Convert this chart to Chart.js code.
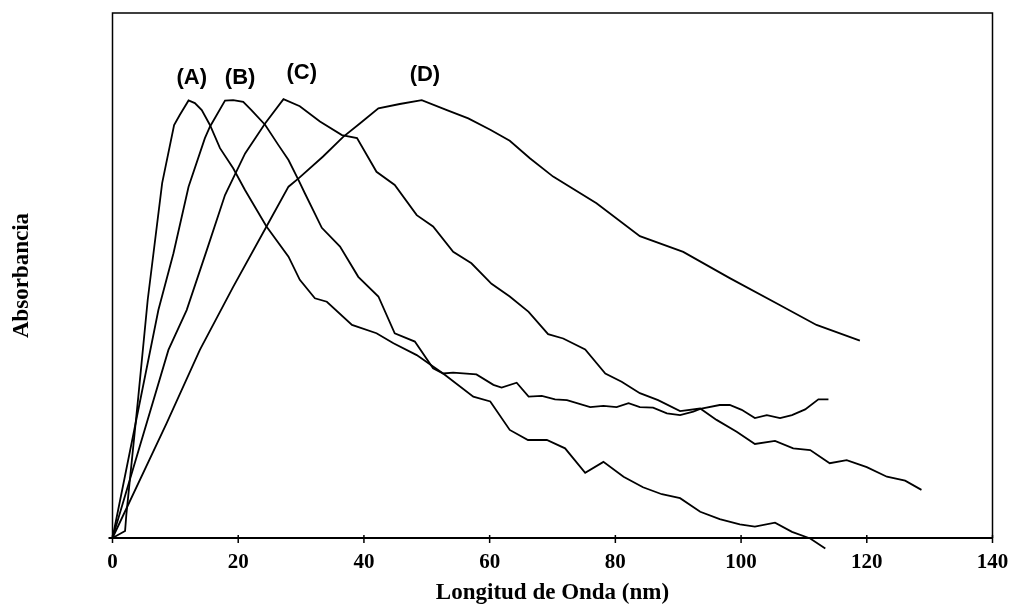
<!DOCTYPE html>
<html>
<head>
<meta charset="utf-8">
<script src="https://cdn.jsdelivr.net/npm/chart.js@4.4.1/dist/chart.umd.min.js"></script>
<style>
    html, body { margin: 0; padding: 0; background: #fff; }
    canvas { display: block; }
</style>
</head>
<body>
<canvas id="espectros" width="1012" height="607"></canvas>
<script>
// curva (A)
var ondaA = [0, 2.0, 2.2, 4.1, 5.6, 7.9, 9.8, 10.7, 12.1, 13.1, 14.2, 15.5, 17.1, 19.2, 21.1, 24.5, 28.0, 29.8, 32.2, 34.1,
    38.1, 42.0, 44.7, 48.4, 51.0, 52.6, 57.4, 60.1, 63.2, 66.1, 69.1, 72.0, 75.2, 78.1, 81.3, 84.4, 87.4, 90.3, 93.5, 96.6,
    99.8, 102.2, 105.4, 108.1, 111.0, 113.4];
var absA = [0, 0.016, 0.053, 0.322, 0.544, 0.811, 0.944, 0.967, 1.000, 0.994, 0.978, 0.944, 0.891, 0.845, 0.795, 0.712, 0.643, 0.590, 0.548, 0.540,
    0.487, 0.468, 0.445, 0.418, 0.392, 0.376, 0.323, 0.312, 0.247, 0.224, 0.224, 0.205, 0.149, 0.174, 0.140, 0.116, 0.100, 0.091, 0.060, 0.043,
    0.031, 0.026, 0.035, 0.014, -0.001, -0.024];

// curva (B)
var ondaB = [0, 7.3, 9.7, 12.1, 14.7, 15.5, 17.9, 19.2, 20.8, 22.1, 24.3, 26.4, 28.0, 29.6, 30.6, 33.3, 36.2, 39.1, 42.3, 44.9,
    48.1, 51.0, 52.6, 54.2, 57.9, 60.6, 61.9, 64.3, 66.2, 68.3, 70.4, 72.3, 76.0, 78.1, 80.2, 82.1, 83.9, 86.0, 88.2, 90.3,
    92.4, 93.7, 96.6, 98.2, 100.1, 102.2, 104.1, 106.2, 108.1, 110.2, 112.3, 113.9];
var absB = [0, 0.521, 0.651, 0.803, 0.914, 0.940, 1.000, 1.001, 0.997, 0.978, 0.944, 0.898, 0.864, 0.818, 0.788, 0.709, 0.666, 0.597, 0.552, 0.468,
    0.449, 0.388, 0.376, 0.378, 0.374, 0.350, 0.344, 0.355, 0.323, 0.325, 0.317, 0.315, 0.299, 0.302, 0.299, 0.308, 0.299, 0.298, 0.285, 0.281,
    0.289, 0.296, 0.304, 0.304, 0.293, 0.274, 0.281, 0.274, 0.281, 0.294, 0.317, 0.317];

// curva (C)
var ondaC = [0, 8.9, 11.8, 15.0, 17.9, 21.1, 24.3, 27.2, 29.8, 33.0, 36.5, 38.9, 42.0, 44.9, 48.4, 51.0, 54.2, 57.1, 60.3, 63.2,
    66.2, 69.3, 71.7, 75.2, 78.4, 81.0, 83.9, 86.8, 90.3, 93.5, 96.1, 99.3, 102.2, 105.4, 108.3, 111.0, 114.1, 116.8, 120.0, 123.2,
    126.1, 128.7];
var absC = [0, 0.430, 0.521, 0.658, 0.784, 0.879, 0.948, 1.003, 0.987, 0.952, 0.921, 0.914, 0.837, 0.807, 0.738, 0.712, 0.654, 0.628, 0.581, 0.552,
    0.517, 0.466, 0.456, 0.431, 0.376, 0.357, 0.331, 0.315, 0.290, 0.296, 0.270, 0.243, 0.215, 0.222, 0.205, 0.201, 0.171, 0.178, 0.162, 0.140,
    0.131, 0.110];

// curva (D)
var ondaD = [0, 8.6, 13.9, 19.2, 24.5, 28.0, 29.6, 33.5, 36.7, 39.4, 42.3, 45.7, 49.2, 53.2, 56.6, 60.1, 63.2, 66.4, 70.1, 77.0,
    83.9, 90.8, 98.2, 105.7, 112.0, 118.9];
var absD = [0, 0.262, 0.430, 0.574, 0.712, 0.803, 0.822, 0.872, 0.917, 0.948, 0.982, 0.992, 1.001, 0.978, 0.959, 0.933, 0.908, 0.868, 0.826, 0.765,
    0.690, 0.654, 0.594, 0.536, 0.487, 0.451];

var nombres = ["(A)", "(B)", "(C)", "(D)"];
var ticksX = [0, 20, 40, 60, 80, 100, 120, 140];

function puntos(xs, ys) {
    var out = [];
    for (var i = 0; i < xs.length; i++) {
        out.push({ x: xs[i], y: ys[i] });
    }
    return out;
}

function serie(nombre, xs, ys) {
    return {
        label: nombre,
        data: puntos(xs, ys),
        borderColor: "#000",
        borderWidth: 1.8,
        pointRadius: 0,
        tension: 0,
        fill: false,
        clip: false
    };
}

// marco del area de trazado y marcas del eje x
var marco = {
    id: "marco",
    afterDatasetsDraw: function (chart) {
        var ctx = chart.ctx;
        var a = chart.chartArea;
        var sx = chart.scales.x;
        ctx.save();
        ctx.strokeStyle = "#000";
        ctx.lineWidth = 1.5;
        ctx.beginPath();
        ctx.moveTo(a.left, a.bottom);
        ctx.lineTo(a.left, a.top);
        ctx.lineTo(a.right, a.top);
        ctx.lineTo(a.right, a.bottom);
        ctx.stroke();
        ctx.lineWidth = 2;
        ctx.beginPath();
        ctx.moveTo(a.left - 4, a.bottom);
        ctx.lineTo(a.right, a.bottom);
        ctx.stroke();
        ctx.lineWidth = 1.5;
        ticksX.forEach(function (v) {
            var px = sx.getPixelForValue(v);
            ctx.beginPath();
            ctx.moveTo(px, a.bottom - 3);
            ctx.lineTo(px, a.bottom + 5);
            ctx.stroke();
        });
        ctx.restore();
    }
};

// letras sobre cada pico
var etiquetas = {
    id: "etiquetas",
    afterDatasetsDraw: function (chart, args, opts) {
        var ctx = chart.ctx;
        ctx.save();
        ctx.fillStyle = "#000";
        ctx.font = "bold 22px 'Liberation Sans', Arial, sans-serif";
        ctx.textAlign = "center";
        ctx.textBaseline = "middle";
        opts.posiciones.forEach(function (p, i) {
            ctx.fillText(nombres[i], chart.scales.x.getPixelForValue(p[0]), chart.scales.y.getPixelForValue(p[1]));
        });
        ctx.restore();
    }
};

new Chart("espectros", {
    type: "line",
    data: {
        datasets: [
            serie(nombres[0], ondaA, absA),
            serie(nombres[1], ondaB, absB),
            serie(nombres[2], ondaC, absC),
            serie(nombres[3], ondaD, absD)
        ]
    },
    options: {
        responsive: false,
        animation: false,
        layout: { padding: { left: 0, right: 19.5, top: 13, bottom: 0 } },
        plugins: {
            legend: { display: false },
            tooltip: { enabled: false },
            etiquetas: { posiciones: [[12.6, 1.051], [20.3, 1.051], [30.1, 1.063], [49.7, 1.058]] }
        },
        scales: {
            x: {
                type: "linear",
                min: 0,
                max: 140,
                grid: { display: false, drawTicks: false },
                border: { display: false },
                ticks: {
                    stepSize: 20,
                    padding: 12,
                    color: "#000",
                    font: { family: "'Liberation Serif', 'Times New Roman', serif", size: 21, weight: "bold" }
                },
                title: {
                    display: true,
                    text: "Longitud de Onda (nm)",
                    color: "#000",
                    padding: { top: 0, bottom: 0 },
                    font: { family: "'Liberation Serif', 'Times New Roman', serif", size: 23, weight: "bold" }
                },
                afterFit: function (s) {
                    s.height = 69;
                    s.paddingLeft = 0;
                    s.paddingRight = 0;
                }
            },
            y: {
                type: "linear",
                min: 0,
                max: 1.2,
                grid: { display: false, drawTicks: false },
                border: { display: false },
                ticks: { display: false },
                title: {
                    display: true,
                    text: "Absorbancia",
                    color: "#000",
                    padding: { top: 8, bottom: 0 },
                    font: { family: "'Liberation Serif', 'Times New Roman', serif", size: 23, weight: "bold" }
                },
                afterFit: function (s) { s.width = 112.5; }
            }
        }
    },
    plugins: [marco, etiquetas]
});
</script>
</body>
</html>
